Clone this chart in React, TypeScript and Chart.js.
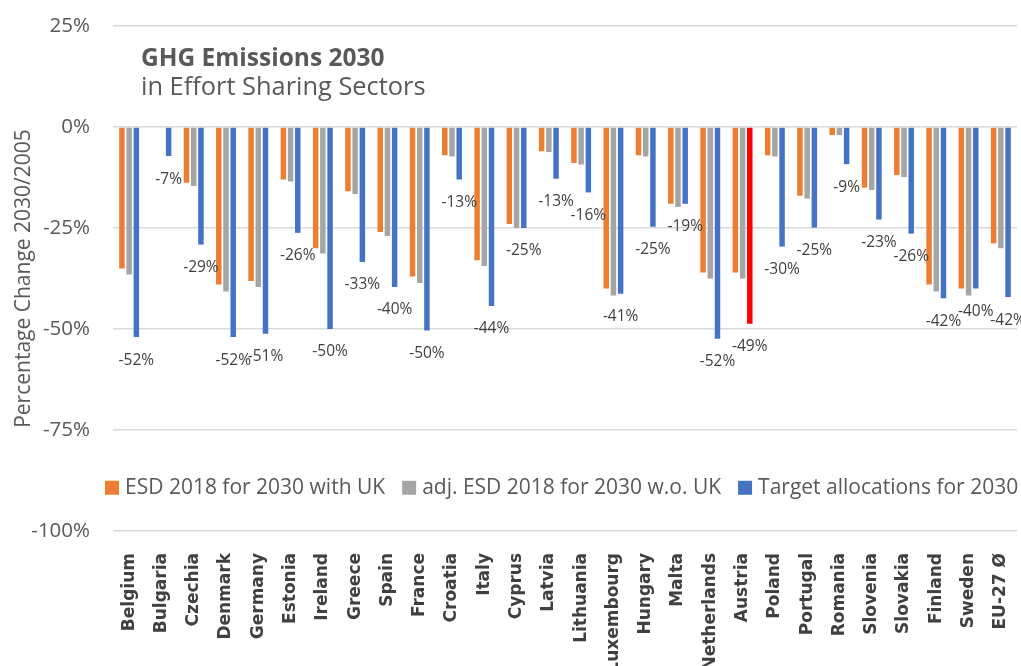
import { useEffect, useRef } from 'react';
import { Chart, registerables } from 'chart.js';

Chart.register(...registerables);

const countries = [
  'Belgium', 'Bulgaria', 'Czechia', 'Denmark', 'Germany', 'Estonia', 'Ireland',
  'Greece', 'Spain', 'France', 'Croatia', 'Italy', 'Cyprus', 'Latvia',
  'Lithuania', 'Luxembourg', 'Hungary', 'Malta', 'Netherlands', 'Austria',
  'Poland', 'Portugal', 'Romania', 'Slovenia', 'Slovakia', 'Finland', 'Sweden', 'EU-27 Ø',
];

const esdWithUK = [
  -35, null, -13.8, -39, -38.1, -13, -30,
  -15.9, -26, -37, -7, -33, -24, -6,
  -8.9, -40, -7, -19, -36, -36,
  -7, -17, -2, -15, -11.9, -39, -40, -28.8,
];

const esdWithoutUK = [
  -36.5, null, -14.6, -40.7, -39.6, -13.5, -31.3,
  -16.6, -27, -38.6, -7.3, -34.4, -25, -6.2,
  -9.3, -41.7, -7.3, -19.8, -37.5, -37.5,
  -7.3, -17.7, -2, -15.6, -12.4, -40.7, -41.7, -30,
];

const targetAllocations = [
  -52, -7.2, -29.1, -52, -51.2, -26.2, -50,
  -33.4, -39.6, -50.4, -13, -44.3, -25, -12.8,
  -16.2, -41.3, -24.7, -19, -52.4, -48.7,
  -29.6, -24.9, -9.2, -22.9, -26.4, -42.4, -40, -42.1,
];

const seriesNames = [
  'ESD 2018 for 2030 with UK',
  'adj. ESD 2018 for 2030 w.o. UK',
  'Target allocations for 2030',
];

const highlightCountry = 'Austria';
const titleLine1 = 'GHG Emissions 2030';
const titleLine2 = 'in Effort Sharing Sectors';
const yAxisTitle = 'Percentage Change 2030/2005';
const yMin = -100;
const yMax = 25;
const yStep = 25;
const legendYValue = -89.3;

const ORANGE = '#ED7D31';
const GRAY = '#A5A5A5';
const BLUE = '#4472C4';
const RED = '#FF0000';
const TEXT = '#595959';
const DARK = '#404040';
const FONT = "'Open Sans', sans-serif";

const labelPlugin = {
  id: 'blueLabels',
  afterDatasetsDraw(chart: any) {
    const ctx = chart.ctx;
    const meta = chart.getDatasetMeta(2);
    ctx.save();
    ctx.font = `15.5px ${FONT}`;
    ctx.fillStyle = DARK;
    ctx.textAlign = 'center';
    ctx.textBaseline = 'middle';
    meta.data.forEach((el: any, i: number) => {
      const v = targetAllocations[i];
      if (v == null) return;
      ctx.fillText(`${Math.round(v)}%`, el.x, el.y + 23);
    });
    ctx.restore();
  },
};

const decorPlugin = {
  id: 'decor',
  afterDraw(chart: any) {
    const ctx = chart.ctx;
    const area = chart.chartArea;
    ctx.save();
    // Title
    ctx.fillStyle = TEXT;
    ctx.textAlign = 'left';
    ctx.textBaseline = 'alphabetic';
    ctx.font = `bold 24.5px ${FONT}`;
    ctx.fillText(titleLine1, area.left + 28, 66);
    ctx.font = `25.4px ${FONT}`;
    ctx.fillText(titleLine2, area.left + 28, 95);

    // Legend
    const colors = [ORANGE, GRAY, BLUE];
    const y = chart.scales.y.getPixelForValue(legendYValue);
    let x = area.left - 8;
    ctx.font = `21px ${FONT}`;
    ctx.textBaseline = 'middle';
    seriesNames.forEach((name, i) => {
      ctx.fillStyle = colors[i];
      ctx.fillRect(x, y - 7, 14, 14);
      x += 20;
      ctx.fillStyle = TEXT;
      ctx.fillText(name, x, y);
      x += ctx.measureText(name).width + 17;
    });
    ctx.restore();
  },
};

export default function App() {
  const canvasRef = useRef<HTMLCanvasElement | null>(null);

  useEffect(() => {
    if (!canvasRef.current) return;
    const blueColors = countries.map((c) => (c === highlightCountry ? RED : BLUE));
    const chart = new Chart(canvasRef.current, {
      type: 'bar',
      data: {
        labels: countries,
        datasets: [
          { label: seriesNames[0], data: esdWithUK as any, backgroundColor: ORANGE },
          { label: seriesNames[1], data: esdWithoutUK as any, backgroundColor: GRAY },
          { label: seriesNames[2], data: targetAllocations, backgroundColor: blueColors },
        ],
      },
      options: {
        responsive: false,
        animation: false,
        devicePixelRatio: 1,
        layout: { padding: { top: 26, right: 4, left: 0, bottom: 0 } },
        datasets: {
          bar: { categoryPercentage: 0.67, barPercentage: 0.76 },
        } as any,
        plugins: {
          legend: { display: false },
          tooltip: { enabled: false },
          title: { display: false },
        },
        scales: {
          x: {
            grid: { display: false },
            border: { display: false },
            ticks: {
              autoSkip: false,
              minRotation: 90,
              maxRotation: 90,
              padding: 14,
              color: DARK,
              font: { family: "'DejaVu Sans', sans-serif", weight: 'bold', size: 17 },
            },
            afterFit: (scale: any) => {
              scale.height = 135;
              scale.paddingLeft = 0;
              scale.paddingRight = 4;
            },
          },
          y: {
            min: yMin,
            max: yMax,
            grid: { color: '#D9D9D9', lineWidth: 1.5, drawTicks: false },
            border: { display: false },
            ticks: {
              stepSize: yStep,
              padding: 23,
              color: TEXT,
              font: { family: FONT, size: 20.5 },
              callback: (v: any) => `${v}%`,
            },
            title: {
              display: true,
              text: yAxisTitle,
              color: TEXT,
              font: { family: FONT, size: 21 },
              padding: { top: 11, bottom: 0 },
            },
            afterFit: (scale: any) => {
              scale.width = 113;
              scale.paddingTop = 0;
              scale.paddingBottom = 0;
            },
          },
        },
      },
      plugins: [labelPlugin, decorPlugin],
    });
    return () => chart.destroy();
  }, []);

  return (
    <div style={{ position: 'fixed', left: 0, top: 0, width: 1021, height: 666, background: '#fff' }}>
      <canvas ref={canvasRef} width={1021} height={666} style={{ display: 'block' }} />
    </div>
  );
}
